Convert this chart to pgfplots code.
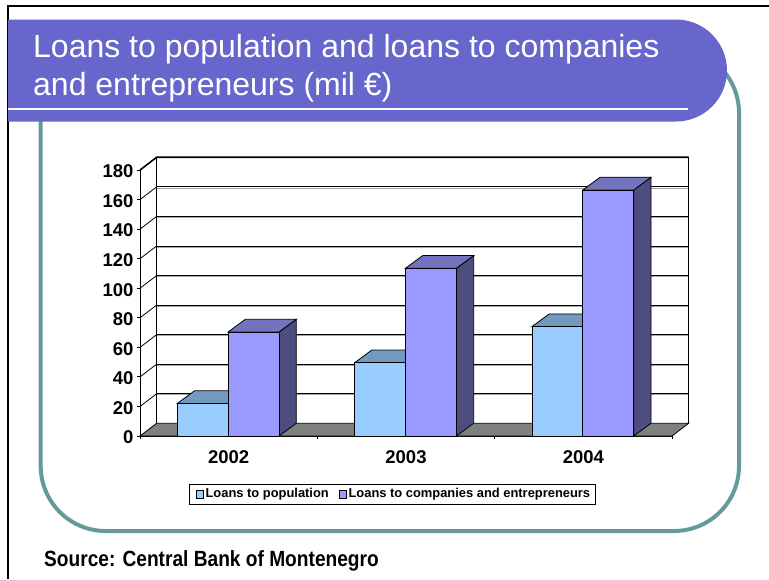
\documentclass[border=0pt]{standalone}
\usepackage{fontspec}
\setmainfont{Liberation Sans}
\newfontfamily\narrowbold[FakeStretch=0.87]{Liberation Sans Bold}
\usepackage{pgfplots}
\pgfplotsset{compat=1.18}
\definecolor{titlebar}{HTML}{6666CC}
\definecolor{frame}{HTML}{669999}
\definecolor{bluefront}{HTML}{99CCFF}
\definecolor{bluetop}{HTML}{7299BF}
\definecolor{purplefront}{HTML}{9999FF}
\definecolor{purpletop}{HTML}{7373BF}
\definecolor{purpleside}{HTML}{4D4D80}
\definecolor{floorgray}{HTML}{808080}
\begin{document}
\begin{tikzpicture}[x=1pt,y=1pt]
\useasboundingbox (0,0) rectangle (769,-579);
% slide decoration
\draw[black,line width=2pt] (769,-5.7) -- (8,-5.7) -- (8,-579);
\draw[frame,line width=4pt,rounded corners=65pt] (40.7,-48) rectangle (739,-531);
\fill[titlebar] (8,-19.5) -- (676,-19.5) arc[start angle=90,end angle=-90,radius=51] -- (8,-121.5) -- cycle;
\fill[white] (8,-107.7) rectangle (688,-109.7);
\node[anchor=base west,white,inner sep=0pt] at (33,-57.5) {\fontsize{32}{38}\selectfont Loans to population and loans to companies};
\node[anchor=base west,white,inner sep=0pt] at (33,-95) {\fontsize{32}{38}\selectfont and entrepreneurs (mil €)};
\node[anchor=base west,black,inner sep=0pt] at (44,-566) {\narrowbold\fontsize{22}{24}\selectfont Source: Central Bank of Montenegro};
\begin{axis}[
  at={(140pt,-436pt)}, anchor=south west, scale only axis,
  width=532pt, height=266pt,
  xmin=0, xmax=3, ymin=0, ymax=180,
  clip=false, axis x line*=bottom, axis y line*=left,
  unbounded coords=jump,
  axis line style={black,line width=1pt,-},
  xtick={0.5,1.5,2.5}, xticklabels={2002,2003,2004},
  minor xtick={0,1,2,3},
  ytick={0,20,...,180},
  tick align=outside,
  major x tick style={draw=none},
  tick style={black,line width=0.8pt},
  major tick length=3pt, minor tick length=3pt,
  xticklabel style={yshift=-8pt},
  yticklabel style={yshift=-1.5pt},
  /pgf/number format/assume math mode=true,
  tick label style={font=\bfseries\fontsize{18.5}{20}\selectfont},
  legend columns=2,
  legend cell align=left,
  legend style={at={(0.4746,-0.218)},anchor=center,draw=black,line width=0.8pt,
    font=\bfseries\fontsize{12.9}{14}\selectfont,inner xsep=3pt,inner ysep=2.5pt,
    /tikz/every even column/.append style={column sep=5pt}},
]
% floor, walls and grid
\addplot[forget plot,fill=floorgray,draw=black,line width=0.8pt] coordinates {(0,0)(3,0)(3.094,8.6)(0.094,8.6)} --cycle;
\addplot[forget plot,floorgray!70,line width=1pt] coordinates {
  (0.094,27.8)(3.094,27.8)(nan,nan)(0.094,47.8)(3.094,47.8)(nan,nan)(0.094,67.8)(3.094,67.8)(nan,nan)
  (0.094,87.8)(3.094,87.8)(nan,nan)(0.094,107.8)(3.094,107.8)(nan,nan)(0.094,127.8)(3.094,127.8)(nan,nan)
  (0.094,147.8)(3.094,147.8)(nan,nan)(0.094,167.8)(3.094,167.8)};
\addplot[forget plot,black,line width=0.8pt] coordinates {
  (0.094,28.6)(3.094,28.6)(nan,nan)(0.094,48.6)(3.094,48.6)(nan,nan)(0.094,68.6)(3.094,68.6)(nan,nan)
  (0.094,88.6)(3.094,88.6)(nan,nan)(0.094,108.6)(3.094,108.6)(nan,nan)(0.094,128.6)(3.094,128.6)(nan,nan)
  (0.094,148.6)(3.094,148.6)(nan,nan)(0.094,168.6)(3.094,168.6)};
\addplot[forget plot,black,line width=0.8pt] coordinates {
  (0,20)(0.094,28.6)(nan,nan)(0,40)(0.094,48.6)(nan,nan)(0,60)(0.094,68.6)(nan,nan)
  (0,80)(0.094,88.6)(nan,nan)(0,100)(0.094,108.6)(nan,nan)(0,120)(0.094,128.6)(nan,nan)
  (0,140)(0.094,148.6)(nan,nan)(0,160)(0.094,168.6)};
\addplot[forget plot,black,line width=1.6pt] coordinates {(0,180)(0.094,188.6)(3.094,188.6)};
\addplot[forget plot,black,line width=0.8pt] coordinates {(3.094,188.6)(3.094,8.6)};
\addplot[forget plot,black,line width=0.8pt] coordinates {(0.094,8.6)(0.094,188.6)};
% blue series
\addplot[forget plot,fill=bluetop,draw=black,line width=0.8pt] coordinates {(0.21,22)(0.497,22)(0.5946,30.6)(0.3076,30.6)} --cycle;
\addplot[forget plot,fill=bluetop,draw=black,line width=0.8pt] coordinates {(1.21,49.6)(1.497,49.6)(1.5946,58.2)(1.3076,58.2)} --cycle;
\addplot[forget plot,fill=bluetop,draw=black,line width=0.8pt] coordinates {(2.21,74)(2.497,74)(2.5946,82.6)(2.3076,82.6)} --cycle;
\addplot[ybar,bar width=0.287,bar shift=0pt,fill=bluefront,draw=black,line width=0.8pt,
  legend image code/.code={\path (0pt,0pt); \draw[fill=bluefront,draw=black,line width=0.7pt] (3pt,-4pt) rectangle (10pt,4pt);}]
  coordinates {(0.3535,22)(1.3535,49.6)(2.3535,74)};
\addlegendentry{Loans to population}
% purple series
\addplot[forget plot,fill=purpleside,draw=black,line width=0.8pt] coordinates {(0.784,0)(0.8816,8.6)(0.8816,79)(0.784,70.4)} --cycle;
\addplot[forget plot,fill=purpleside,draw=black,line width=0.8pt] coordinates {(1.784,0)(1.8816,8.6)(1.8816,122.1)(1.784,113.5)} --cycle;
\addplot[forget plot,fill=purpleside,draw=black,line width=0.8pt] coordinates {(2.784,0)(2.8816,8.6)(2.8816,175.1)(2.784,166.5)} --cycle;
\addplot[forget plot,fill=purpletop,draw=black,line width=0.8pt] coordinates {(0.497,70.4)(0.784,70.4)(0.8816,79)(0.5946,79)} --cycle;
\addplot[forget plot,fill=purpletop,draw=black,line width=0.8pt] coordinates {(1.497,113.5)(1.784,113.5)(1.8816,122.1)(1.5946,122.1)} --cycle;
\addplot[forget plot,fill=purpletop,draw=black,line width=0.8pt] coordinates {(2.497,166.5)(2.784,166.5)(2.8816,175.1)(2.5946,175.1)} --cycle;
\addplot[ybar,bar width=0.287,bar shift=0pt,fill=purplefront,draw=black,line width=0.8pt,
  legend image code/.code={\path (0pt,0pt); \draw[fill=purplefront,draw=black,line width=0.7pt] (3pt,-4pt) rectangle (10pt,4pt);}]
  coordinates {(0.6405,70.4)(1.6405,113.5)(2.6405,166.5)};
\addlegendentry{Loans to companies and entrepreneurs}
\end{axis}
\end{tikzpicture}
\end{document}
